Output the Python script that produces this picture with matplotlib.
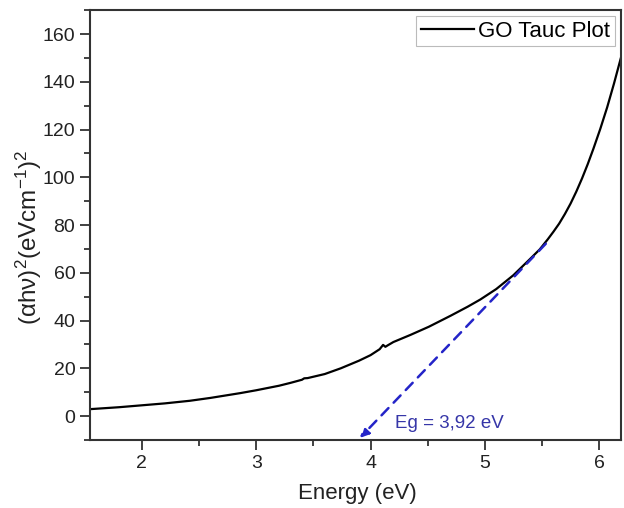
import matplotlib
matplotlib.use("Agg")
import matplotlib.pyplot as plt
from matplotlib.ticker import MultipleLocator

plt.rcParams['font.family'] = ['Liberation Sans', 'DejaVu Sans']
plt.rcParams['mathtext.default'] = 'regular'

# Tauc plot data
energy = [1.55, 1.8, 2.0, 2.2, 2.42, 2.6, 2.86, 3.0, 3.2, 3.30, 3.40, 3.42, 3.45,
          3.6, 3.74, 3.9, 4.0, 4.08, 4.11, 4.13, 4.15, 4.2, 4.35, 4.51, 4.7,
          4.85, 4.96, 5.1, 5.25, 5.4, 5.48, 5.55, 5.60, 5.65, 5.70, 5.75, 5.80,
          5.85, 5.90, 5.95, 6.01, 6.07, 6.13, 6.19]
tauc = [2.9, 3.7, 4.5, 5.3, 6.4, 7.6, 9.6, 10.8, 12.7, 13.9, 15.2, 15.8, 15.9,
        17.6, 20.0, 23.2, 25.5, 28.0, 29.8, 29.0, 29.6, 31.0, 34.0, 37.4, 42.0,
        45.8, 48.8, 53.2, 59.0, 66.0, 69.8, 74.0, 77.2, 80.6, 84.6, 89.0, 94.0,
        99.5, 105.5, 112.0, 120.3, 129.3, 139.3, 150.0]

# linear fit line (extrapolated to the axis)
fit_x = [5.55, 3.89]
fit_y = [73.0, -10.0]
eg_label = "Eg = 3,92 eV"

fig = plt.figure(figsize=(6.24, 5.08), dpi=100)
ax = fig.add_axes([0.144, 0.134, 0.851, 0.846])

ax.plot(energy, tauc, color="black", lw=1.6, label="GO Tauc Plot")
ax.annotate("", xy=(fit_x[1], fit_y[1]), xytext=(fit_x[0], fit_y[0]),
            arrowprops=dict(arrowstyle="-|>", color="#2424c8", lw=1.8,
                            linestyle=(0, (4, 3)), mutation_scale=13),
            annotation_clip=False)
ax.text(4.21, -3, eg_label, color="#3636a8", fontsize=13.5, va="center")

ax.set_xlim(1.545, 6.19)
ax.set_ylim(-10, 170)
ax.xaxis.set_major_locator(MultipleLocator(1))
ax.xaxis.set_minor_locator(MultipleLocator(0.5))
ax.yaxis.set_major_locator(MultipleLocator(20))
ax.yaxis.set_minor_locator(MultipleLocator(10))
ax.tick_params(which="both", direction="out", width=1.3, colors="#333333",
               labelcolor="#222222", labelsize=14)
ax.tick_params(which="major", length=7)
ax.tick_params(which="minor", length=4)
for s in ax.spines.values():
    s.set_linewidth(1.5)
    s.set_color("#333333")

ax.set_xlabel("Energy (eV)", fontsize=16, color="#222222")
ax.set_ylabel("(αhν)$^2$(eVcm$^{-1}$)$^2$", fontsize=17.5, color="#222222")
ax.xaxis.set_label_coords(0.503, -0.1)
ax.yaxis.set_label_coords(-0.087, 0.472)

leg = ax.legend(loc="upper right", fontsize=16, frameon=True, fancybox=False,
                edgecolor="#aaaaaa", borderaxespad=0.27, handlelength=2.4,
                borderpad=0.2, handletextpad=0.2)
leg.get_frame().set_linewidth(0.8)

fig.savefig("out.png", dpi=100)
